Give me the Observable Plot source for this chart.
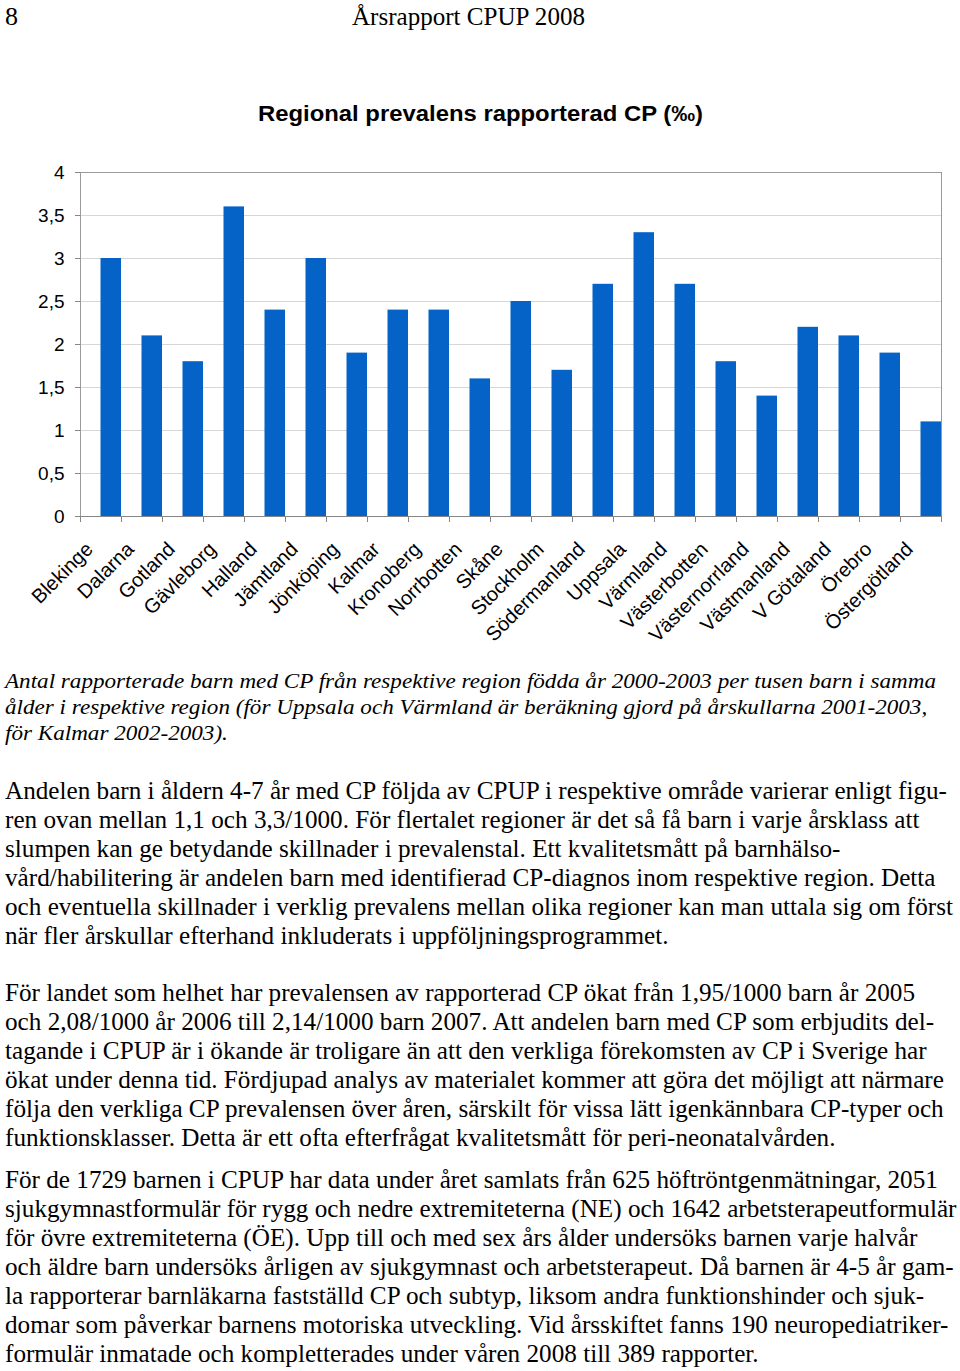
<!DOCTYPE html>
<html><head><meta charset="utf-8">
<script src="https://cdn.jsdelivr.net/npm/d3@7"></script>
<script src="https://cdn.jsdelivr.net/npm/@observablehq/plot@0.6"></script>
<style>
html,body{margin:0;padding:0;background:#fff;}
#page{position:relative;width:960px;height:1371px;overflow:hidden;background:#fff;}
.ln{position:absolute;white-space:nowrap;transform-origin:0 0;color:#000;line-height:1em;}
#chart{position:absolute;left:0;top:150px;}
</style></head><body><div id="page"><div id="chart"></div></div>
<script>
// ---- data ----
const regions = ["Blekinge","Dalarna","Gotland","Gävleborg","Halland","Jämtland","Jönköping","Kalmar","Kronoberg","Norrbotten","Skåne","Stockholm","Södermanland","Uppsala","Värmland","Västerbotten","Västernorrland","Västmanland","V Götaland","Örebro","Östergötland"];
const prevalence = [3.0,2.1,1.8,3.6,2.4,3.0,1.9,2.4,2.4,1.6,2.5,1.7,2.7,3.3,2.7,1.8,1.4,2.2,2.1,1.9,1.1];
const yTicks = [0,0.5,1,1.5,2,2.5,3,3.5,4];
const yTickLabels = ["0","0,5","1","1,5","2","2,5","3","3,5","4"];

const pageNumber = "8";
const pageHeader = "Årsrapport CPUP 2008";
const chartTitle = "Regional prevalens rapporterad CP (‰)";
const captionLines = [
 "Antal rapporterade barn med CP från respektive region födda år 2000-2003 per tusen barn i samma",
 "ålder i respektive region (för Uppsala och Värmland är beräkning gjord på årskullarna 2001-2003,",
 "för Kalmar 2002-2003)."
];
const paragraph1 = [
 "Andelen barn i åldern 4-7 år med CP följda av CPUP i respektive område varierar enligt figu-",
 "ren ovan mellan 1,1 och 3,3/1000. För flertalet regioner är det så få barn i varje årsklass att",
 "slumpen kan ge betydande skillnader i prevalenstal. Ett kvalitetsmått på barnhälso-",
 "vård/habilitering är andelen barn med identifierad CP-diagnos inom respektive region. Detta",
 "och eventuella skillnader i verklig prevalens mellan olika regioner kan man uttala sig om först",
 "när fler årskullar efterhand inkluderats i uppföljningsprogrammet."
];
const paragraph2 = [
 "För landet som helhet har prevalensen av rapporterad CP ökat från 1,95/1000 barn år 2005",
 "och 2,08/1000 år 2006 till 2,14/1000 barn 2007. Att andelen barn med CP som erbjudits del-",
 "tagande i CPUP är i ökande är troligare än att den verkliga förekomsten av CP i Sverige har",
 "ökat under denna tid. Fördjupad analys av materialet kommer att göra det möjligt att närmare",
 "följa den verkliga CP prevalensen över åren, särskilt för vissa lätt igenkännbara CP-typer och",
 "funktionsklasser. Detta är ett ofta efterfrågat kvalitetsmått för peri-neonatalvården."
];
const paragraph3 = [
 "För de 1729 barnen i CPUP har data under året samlats från 625 höftröntgenmätningar, 2051",
 "sjukgymnastformulär för rygg och nedre extremiteterna (NE) och 1642 arbetsterapeutformulär",
 "för övre extremiteterna (ÖE). Upp till och med sex års ålder undersöks barnen varje halvår",
 "och äldre barn undersöks årligen av sjukgymnast och arbetsterapeut. Då barnen är 4-5 år gam-",
 "la rapporterar barnläkarna fastställd CP och subtyp, liksom andra funktionshinder och sjuk-",
 "domar som påverkar barnens motoriska utveckling. Vid årsskiftet fanns 190 neuropediatriker-",
 "formulär inmatade och kompletterades under våren 2008 till 389 rapporter."
];

// ---- chart ----
const data = regions.map((r, i) => ({region: r, value: prevalence[i]}));
const axisGray = "#858585";
const chart = Plot.plot({
  width: 960, height: 500,
  marginLeft: 80, marginRight: 19, marginTop: 22, marginBottom: 134,
  style: {fontFamily: "'Liberation Sans', Arial, sans-serif", fontSize: "19px", background: "transparent", overflow: "visible", color: "#000"},
  x: {type: "band", domain: regions, padding: 0, axis: null},
  y: {domain: [0, 4], axis: null},
  marks: [
    Plot.ruleY(yTicks.filter(d => d > 0 && d < 4), {stroke: "#d6d6d6", strokeWidth: 1}),
    Plot.barY(data, {x: "region", y: "value", fill: "#0563c8", insetLeft: 20.5, insetRight: 0}),
    Plot.frame({stroke: "#9a9a9a"}),
    Plot.ruleY([0], {stroke: axisGray}),
    Plot.axisY({ticks: yTicks, tickFormat: d => yTickLabels[yTicks.indexOf(d)], tickSize: 5, tickPadding: 11, stroke: axisGray, fill: "#000", label: null, fontSize: 19}),
    Plot.ruleX(regions, {x: d => d, dx: 20.5, y1: () => 0, y2: () => 0, insetBottom: -6, stroke: axisGray}),
    Plot.ruleX([regions[0]], {x: d => d, dx: -20.5, y1: () => 0, y2: () => 0, insetBottom: -6, stroke: axisGray}),
    Plot.text(regions, {x: d => d, y: () => 0, text: d => d, rotate: -45, textAnchor: "end", lineAnchor: "bottom", dx: -7, dy: 34, fill: "#000", fontSize: 20})
  ]
});
document.getElementById("chart").appendChild(chart);

// ---- text ----
const page = document.getElementById("page");
const SERIF = "'Liberation Serif', 'Times New Roman', serif";
const SANS = "'Liberation Sans', Arial, sans-serif";
function addLine(text, o) {
  const el = document.createElement("div");
  el.className = "ln";
  el.textContent = text;
  el.style.fontFamily = o.family;
  el.style.fontSize = o.size + "px";
  el.style.fontStyle = o.italic ? "italic" : "normal";
  el.style.fontWeight = o.bold ? "bold" : "normal";
  el.style.left = o.x + "px";
  el.style.top = (o.baseline - 0.84 * o.size) + "px";
  page.appendChild(el);
  return el;
}
function fitScale(el, target) { return target / el.getBoundingClientRect().width; }

addLine(pageNumber, {family: SERIF, size: 26, x: 5, baseline: 26});
const hdr = addLine(pageHeader, {family: SERIF, size: 26, x: 352, baseline: 26});
hdr.style.transform = `scaleX(${fitScale(hdr, 233)})`;

const ttl = addLine(chartTitle, {family: SANS, size: 22, bold: true, x: 258, baseline: 121});
ttl.style.transform = `scaleX(${fitScale(ttl, 445)})`;

const capEls = captionLines.map((t, i) => addLine(t, {family: SERIF, size: 21, italic: true, x: 5, baseline: 689 + 26 * i}));
const capS = fitScale(capEls[0], 931);
capEls.forEach(e => e.style.transform = `scaleX(${capS})`);

const bodyEls = [];
paragraph1.forEach((t, i) => bodyEls.push(addLine(t, {family: SERIF, size: 25, x: 5, baseline: 799 + 29 * i})));
paragraph2.forEach((t, i) => bodyEls.push(addLine(t, {family: SERIF, size: 25, x: 5, baseline: 1001 + 29 * i})));
paragraph3.forEach((t, i) => bodyEls.push(addLine(t, {family: SERIF, size: 25, x: 5, baseline: 1188 + 29 * i})));
const bodyS = fitScale(bodyEls[4], 948);
bodyEls.forEach(e => e.style.transform = `scaleX(${bodyS})`);
</script></body></html>
